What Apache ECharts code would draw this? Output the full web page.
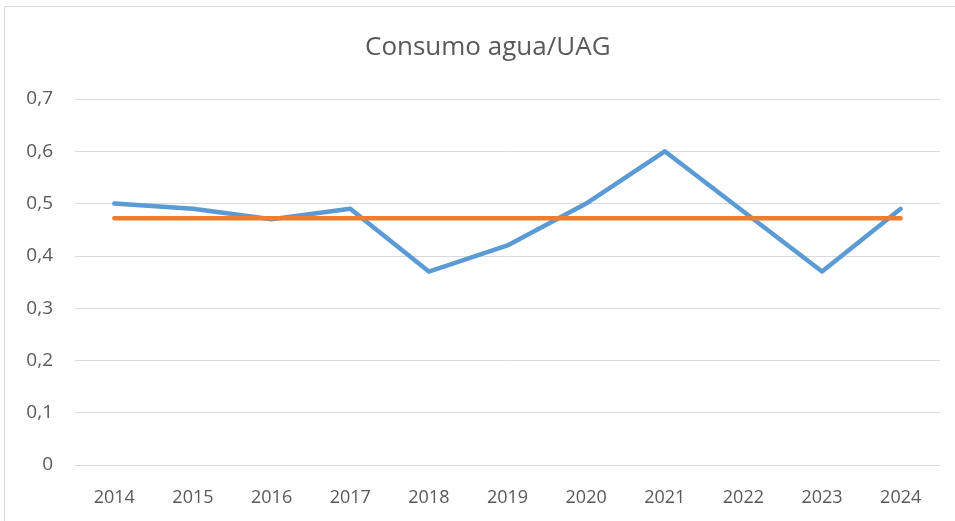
<!DOCTYPE html>
<html>
<head>
<meta charset="utf-8">
<script src="https://cdn.jsdelivr.net/npm/echarts@6/dist/echarts.min.js"></script>
<style>
  html, body { margin: 0; padding: 0; background: #fff; }
  #chart { width: 955px; height: 521px; }
</style>
</head>
<body>
<div id="chart"></div>
<script>
// data
const years = ['2014', '2015', '2016', '2017', '2018', '2019', '2020', '2021', '2022', '2023', '2024']
const consumo = [0.50, 0.49, 0.47, 0.49, 0.37, 0.42, 0.50, 0.60, 0.485, 0.37, 0.49]
const media = [0.472, 0.472, 0.472, 0.472, 0.472, 0.472, 0.472, 0.472, 0.472, 0.472, 0.472]

const font = '"Open Sans", sans-serif'
const textColor = '#595959'

const chart = echarts.init(document.getElementById('chart'))

chart.setOption({
  backgroundColor: '#fff',
  animation: false,
  title: {
    text: 'Consumo agua/UAG',
    left: 360,
    top: 30,
    textStyle: { fontFamily: font, fontSize: 26, fontWeight: 'normal', color: textColor }
  },
  graphic: [{
    type: 'rect',
    shape: { x: 4.5, y: 6.5, width: 1000, height: 600 },
    style: { fill: 'none', stroke: '#d9d9d9', lineWidth: 1 },
    silent: true
  }],
  grid: { left: 75, right: 15, top: 99, bottom: 56 },
  xAxis: {
    type: 'category',
    data: years,
    boundaryGap: true,
    axisLine: { lineStyle: { color: '#d9d9d9', width: 1 } },
    axisTick: { show: false },
    axisLabel: { fontFamily: font, fontSize: 18, color: textColor, margin: 24 }
  },
  yAxis: {
    type: 'value',
    min: 0,
    max: 0.7,
    interval: 0.1,
    axisLine: { show: false },
    axisTick: { show: false },
    splitLine: { lineStyle: { color: '#d9d9d9', width: 1 } },
    axisLabel: {
      fontFamily: font, fontSize: 19, color: textColor, margin: 22,
      formatter: v => String(Math.round(v * 10) / 10).replace('.', ',')
    }
  },
  series: [{
    name: 'Consumo',
    type: 'line',
    data: consumo,
    showSymbol: false,
    lineStyle: { color: '#5B9BD5', width: 4.5, cap: 'round', join: 'round' },
    z: 2
  }, {
    name: 'Media',
    type: 'line',
    data: media,
    showSymbol: false,
    lineStyle: { color: '#ED7D31', width: 4.5, cap: 'round' },
    z: 3
  }]
})
</script>
</body>
</html>
